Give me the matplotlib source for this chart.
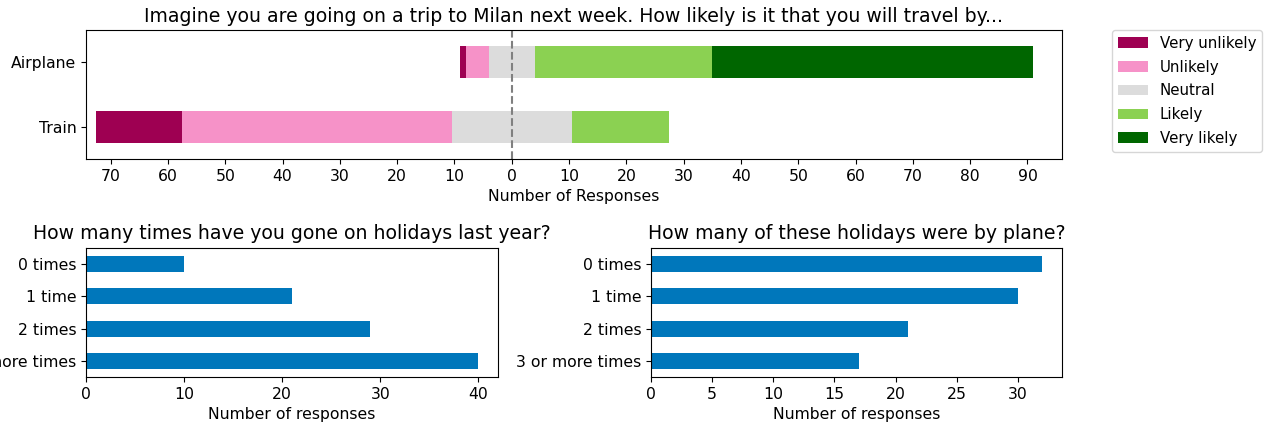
import numpy as np
import matplotlib
matplotlib.use("Agg")
import matplotlib.pyplot as plt

# Дані для діаграми Лайкерта
modes = ["Airplane", "Train"]
levels = ["Very unlikely", "Unlikely", "Neutral", "Likely", "Very likely"]
very_unlikely = [1, 15]
unlikely = [4, 47]
neutral = [8, 21]
likely = [31, 17]
very_likely = [56, 0]

# Дані для нижніх графіків
holiday_labels = ["0 times", "1 time", "2 times", "3 or more times"]
holidays_count = [10, 21, 29, 40]
plane_count = [32, 30, 21, 17]

likert_colors = ["#9e0052", "#f692c8", "#dcdcdc", "#8bd152", "#006600"]
bar_color = "#0077bb"

plt.rcParams["font.size"] = 11.25
plt.rcParams["axes.titlesize"] = 13.6


def plot_likert(ax):
    series = [very_unlikely, unlikely, neutral, likely, very_likely]
    y = np.arange(len(modes))
    # Зсув так, щоб центр нейтральної частини був на нулі
    left = -(np.array(very_unlikely) + np.array(unlikely) + np.array(neutral) / 2)
    for name, vals, color in zip(levels, series, likert_colors):
        ax.barh(y, vals, left=left, height=0.5, color=color, label=name)
        left = left + np.array(vals)

    ax.axvline(0, color="grey", linestyle="--", linewidth=1.5)
    ax.set_yticks(y, modes)
    ax.set_ylim(len(modes) - 0.5, -0.5)
    ax.set_xlim(-74.3, 96)
    ticks = np.arange(-70, 91, 10)
    ax.set_xticks(ticks, [str(abs(t)) for t in ticks])
    ax.set_xlabel("Number of Responses")
    ax.set_title(
        "Imagine you are going on a trip to Milan next week. "
        "How likely is it that you will travel by..."
    )
    ax.legend(loc="upper left", bbox_to_anchor=(1.0512, 1.0), fontsize=10.8,
              borderaxespad=0, labelspacing=0.58)


def plot_counts(ax, values, title, step):
    y = np.arange(len(holiday_labels))
    ax.barh(y, values, height=0.5, color=bar_color)
    ax.set_yticks(y, holiday_labels)
    ax.set_ylim(len(holiday_labels) - 0.5, -0.5)
    ax.set_xlim(0, max(values) * 1.05)
    ax.set_xticks(np.arange(0, max(values) + 1, step))
    ax.set_xlabel("Number of responses")
    ax.set_title(title)


def main():
    fig = plt.figure(figsize=(12.74, 4.28), dpi=100)
    ax_top = fig.add_axes([0.0675, 0.628, 0.766, 0.302])
    ax_left = fig.add_axes([0.0675, 0.119, 0.3234, 0.302])
    ax_right = fig.add_axes([0.511, 0.119, 0.3226, 0.302])

    plot_likert(ax_top)
    plot_counts(ax_left, holidays_count,
                "How many times have you gone on holidays last year?", 10)
    plot_counts(ax_right, plane_count,
                "How many of these holidays were by plane?", 5)

    fig.savefig("out.png", dpi=100)


if __name__ == "__main__":
    main()
